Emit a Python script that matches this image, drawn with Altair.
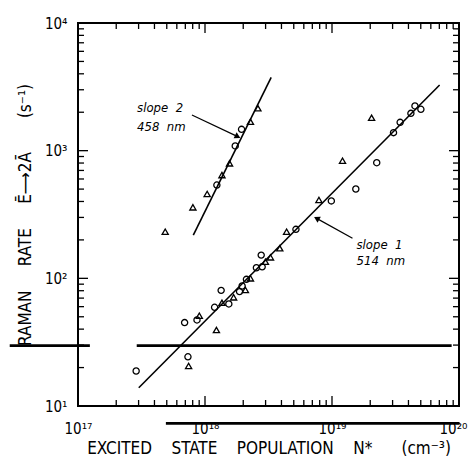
import math
import altair as alt
import pandas as pd

# ---------------- data ----------------
circle_x = [2.87e17, 6.91e17, 7.34e17, 8.65e17, 1.19e18, 1.34e18, 1.54e18, 1.87e18, 1.96e18,
            2.12e18, 2.54e18, 2.77e18, 2.82e18, 5.20e18, 9.88e18, 1.54e19, 2.25e19, 3.05e19,
            3.44e19, 4.18e19, 4.50e19, 5.01e19,
            1.24e18, 1.73e18, 1.94e18]
circle_y = [18.8, 45.0, 24.3, 47.2, 59.3, 80.5, 63.0, 78.7, 87.1,
            98.2, 121, 152, 123, 242, 404, 501, 805, 1384,
            1667, 1960, 2239, 2109,
            538, 1089, 1469]

tri_x = [7.43e17, 9.02e17, 1.23e18, 1.36e18, 1.68e18, 2.08e18, 2.28e18, 2.99e18, 3.28e18,
         3.88e18, 4.39e18, 7.89e18, 1.21e19, 2.05e19,
         4.86e17, 8.03e17, 1.04e18, 1.36e18, 1.56e18, 2.28e18, 2.61e18]
tri_y = [20.6, 51.0, 39.4, 64.4, 71.0, 81.1, 100, 135, 146,
         172, 232, 411, 835, 1811,
         232, 360, 458, 644, 796, 1687, 2147]

fit1_x = [3.01e17, 7.04e19]
fit1_y = [13.9, 3266]
fit2_x = [8.09e17, 3.32e18]
fit2_y = [218, 3750]

arrow_x = [7.89e17, 1.81e18, 1.45e19, 7.57e18]
arrow_y = [1901, 1288, 206, 295]
arrow_id = ["a2", "a2", "a1", "a1"]
head_x = [1.81e18, 7.57e18]
head_y = [1288, 295]
head_shape = ["triangle-right", "triangle-left"]
head_angle = [26.6, 29.0]

note_x = [2.92e17, 2.92e17, 1.56e19, 1.56e19]
note_y = [2158, 1531, 182, 136]
note_text = ["slope\u00a0\u00a02", "458\u00a0\u00a0nm", "slope\u00a0\u00a01", "514\u00a0\u00a0nm"]

# stray horizontal strokes of the original print
stroke_x = [2.9e17, 2.9e16, 4.92e17]
stroke_x2 = [8.75e19, 1.24e17, 1.01e20]
stroke_y = [29.7, 29.7, 7.31]

x_decades = [1e17, 1e18, 1e19, 1e20]
x_labels = ["10\u00b9\u2077", "10\u00b9\u2078", "10\u00b9\u2079", "10\u00b2\u2070"]
y_decades = [1e1, 1e2, 1e3, 1e4]
y_labels = ["10\u00b9", "10\u00b2", "10\u00b3", "10\u2074"]
minor_mult = [2, 3, 4, 5, 6, 7, 8, 9]

S4 = "\u00a0\u00a0\u00a0\u00a0"
S5 = S4 + "\u00a0"
x_title = ("EXCITED" + S4 + "STATE" + S4 + "POPULATION" + S4 + "N*" + S4 + "\u00a0\u00a0(cm\u207b\u00b3)")
y_title = ("RAMAN" + S5 + "RATE" + S5 + "\u0112\u27f62\u0100" + S5 + "\u00a0\u00a0(s\u207b\u00b9)")

# ---------------- build ----------------
W, H = 381, 383
FONT = "DejaVu Sans Condensed, Liberation Sans Narrow, DejaVu Sans, sans-serif"


def label_expr(vals, labs):
    expr = "''"
    for v, l in zip(vals[::-1], labs[::-1]):
        e = round(math.log10(v))
        expr = f"(abs(log(datum.value)/LN10 - {e}) < 0.01 ? '{l}' : {expr})"
    return expr


xscale = alt.Scale(type="log", domain=[1e17, 1e20], nice=False)
yscale = alt.Scale(type="log", domain=[1e1, 1e4], nice=False)

xaxis = alt.Axis(values=x_decades, labelExpr=label_expr(x_decades, x_labels), title=x_title,
                 ticks=False, domain=False, grid=False, labelFlush=False, labelOverlap=False,
                 labelFont=FONT, labelFontSize=15, labelPadding=15, labelColor="black",
                 labelAlign={"condition": {"test": "datum.value > 5e19", "value": "right"},
                             "value": "center"},
                 labelOffset={"condition": {"test": "datum.value > 5e19", "value": 8}, "value": 0},
                 titleFont=FONT, titleFontSize=17, titleFontWeight="normal",
                 titleY=47, titleBaseline="alphabetic",
                 titleColor="black")
yaxis = alt.Axis(values=y_decades, labelExpr=label_expr(y_decades, y_labels), title=y_title,
                 ticks=False, domain=False, grid=False, labelFlush=False, labelOverlap=False,
                 labelFont=FONT, labelFontSize=15, labelPadding=11, labelColor="black",
                 titleFont=FONT, titleFontSize=17, titleFontWeight="normal", titlePadding=10,
                 titleColor="black")


def X(field="x"):
    return alt.X(f"{field}:Q", scale=xscale, axis=xaxis)


def Y(field="y"):
    return alt.Y(f"{field}:Q", scale=yscale, axis=yaxis)


circles = alt.Chart(pd.DataFrame({"x": circle_x, "y": circle_y})).mark_point(
    shape="circle", filled=False, color="black", size=38, strokeWidth=1.3, opacity=1
).encode(x=X(), y=Y())

tris = alt.Chart(pd.DataFrame({"x": tri_x, "y": tri_y})).mark_point(
    shape="triangle-up", filled=False, color="black", size=38, strokeWidth=1.3, opacity=1
).encode(x=X(), y=Y())

fits = alt.Chart(pd.DataFrame({
    "x": fit1_x + fit2_x, "y": fit1_y + fit2_y, "g": ["1", "1", "2", "2"]
})).mark_line(color="black", strokeWidth=1.6).encode(x=X(), y=Y(), detail="g:N")

arrows = alt.Chart(pd.DataFrame({"x": arrow_x, "y": arrow_y, "g": arrow_id})).mark_line(
    color="black", strokeWidth=1.2).encode(x=X(), y=Y(), detail="g:N")

heads = alt.Chart(pd.DataFrame({"x": head_x, "y": head_y, "s": head_shape, "a": head_angle})).mark_point(
    filled=True, color="black", size=45, opacity=1
).encode(x=X(), y=Y(), shape=alt.Shape("s:N", scale=None), angle=alt.Angle("a:Q", scale=None))

notes = alt.Chart(pd.DataFrame({"x": note_x, "y": note_y, "t": note_text})).mark_text(
    align="left", baseline="middle", font=FONT, fontSize=13, fontStyle="italic", color="black"
).encode(x=X(), y=Y(), text="t:N")

strokes = alt.Chart(pd.DataFrame({"x": stroke_x, "x2": stroke_x2, "y": stroke_y})).mark_rule(
    color="black", strokeWidth=2.6).encode(x=X(), x2="x2:Q", y=Y())

x_major = pd.DataFrame({"x": x_decades})
x_minor = pd.DataFrame({"x": [m * 10.0 ** d for d in (17, 18, 19) for m in minor_mult]})
y_major = pd.DataFrame({"y": y_decades})
y_minor = pd.DataFrame({"y": [m * 10.0 ** d for d in (1, 2, 3) for m in minor_mult]})

tick_layers = []
for df, ln in ((x_major, 10), (x_minor, 6)):
    tick_layers.append(alt.Chart(df).mark_rule(color="black", strokeWidth=1.3).encode(
        x=X(), y=alt.value(H), y2=alt.value(H - ln)))
    tick_layers.append(alt.Chart(df).mark_rule(color="black", strokeWidth=1.3).encode(
        x=X(), y=alt.value(0), y2=alt.value(ln)))
for df, ln in ((y_major, 10), (y_minor, 6)):
    tick_layers.append(alt.Chart(df).mark_rule(color="black", strokeWidth=1.3).encode(
        y=Y(), x=alt.value(0), x2=alt.value(ln)))
    tick_layers.append(alt.Chart(df).mark_rule(color="black", strokeWidth=1.3).encode(
        y=Y(), x=alt.value(W), x2=alt.value(W - ln)))

chart = alt.layer(
    *tick_layers, strokes, fits, arrows, heads, circles, tris, notes
).properties(
    width=W, height=H,
    autosize=alt.AutoSizeParams(type="none"),
    padding={"left": 70, "top": 15, "right": 9, "bottom": 50},
    background="white",
).configure_view(stroke="black", strokeWidth=2)

chart.save("out.html", embed_options={"renderer": "svg", "actions": False})
